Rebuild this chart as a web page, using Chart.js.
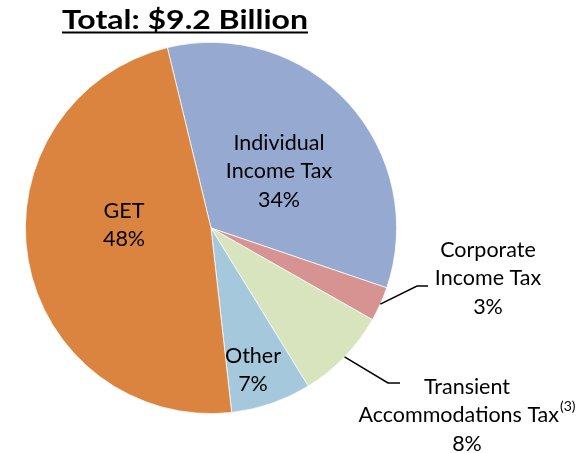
<!DOCTYPE html>
<html>
<head>
<meta charset="utf-8">
<script src="https://cdn.jsdelivr.net/npm/chart.js@4"></script>
<style>
  html, body { margin: 0; padding: 0; background: #fff; }
  #wrap { width: 588px; height: 453px; }
</style>
</head>
<body>
<div id="wrap"><canvas id="revenue-chart" width="588" height="453"></canvas></div>
<script>
// Data
const categories = ['Individual Income Tax', 'Corporate Income Tax', 'Transient Accommodations Tax', 'Other', 'GET'];
const shares = [34, 3, 8, 7, 48];
const sliceColors = ['#95A9D1', '#D69391', '#D7E4BD', '#A5C8DC', '#DA843F'];
const titleText = 'Total: $9.2 Billion';

// Label text lines (the percent line is added under them)
const labelLines = [
    ['Individual', 'Income Tax'],
    ['Corporate', 'Income Tax'],
    ['Transient', 'Accommodations Tax'],
    ['Other'],
    ['GET']
];

// Label placement (pixels) and leader line elbows for outside labels
const labelPos = [
    { x: 279, y: 143 },
    { x: 488, y: 250 },
    { x: 467, y: 387 },
    { x: 253, y: 356 },
    { x: 124, y: 211 }
];
const leaders = [null, { ex: 417, ey: 286, hx: 428 }, { ex: 388, ey: 383, hx: 400 }, null, null];

const FONT = 'Lato, Carlito, Calibri, sans-serif';
const LABEL_FONT = '21.5px ' + FONT;
const SUP_FONT = '14px ' + FONT;

// Draws labels, leader lines and the underlined title
const labelPlugin = {
    id: 'pieLabels',
    afterDraw(chart) {
        const ctx = chart.ctx;
        const meta = chart.getDatasetMeta(0);
        ctx.save();
        ctx.fillStyle = '#000';
        ctx.textAlign = 'center';
        ctx.textBaseline = 'middle';
        ctx.font = LABEL_FONT;

        meta.data.forEach((arc, i) => {
            const lead = leaders[i];
            if (lead) {
                const mid = (arc.startAngle + arc.endAngle) / 2;
                const sx = arc.x + Math.cos(mid) * arc.outerRadius;
                const sy = arc.y + Math.sin(mid) * arc.outerRadius;
                ctx.beginPath();
                ctx.strokeStyle = '#000';
                ctx.lineWidth = 1.5;
                ctx.moveTo(sx, sy);
                ctx.lineTo(lead.ex, lead.ey);
                ctx.lineTo(lead.hx, lead.ey);
                ctx.stroke();
            }
            const p = labelPos[i];
            const lines = labelLines[i].concat([shares[i] + '%']);
            lines.forEach((txt, j) => {
                const y = p.y + j * 28.5;
                if (i === 2 && j === 1) {
                    // superscript note after "Accommodations Tax"
                    const w = ctx.measureText(txt).width;
                    ctx.font = SUP_FONT;
                    const sw = ctx.measureText('(3)').width;
                    ctx.font = LABEL_FONT;
                    const left = p.x - (w + sw + 1) / 2;
                    ctx.textAlign = 'left';
                    ctx.fillText(txt, left, y);
                    ctx.font = SUP_FONT;
                    ctx.fillText('(3)', left + w + 1, y - 9);
                    ctx.font = LABEL_FONT;
                    ctx.textAlign = 'center';
                } else {
                    ctx.fillText(txt, p.x, y);
                }
            });
        });

        // title, stretched to the reference width
        ctx.font = 'bold 27px ' + FONT;
        ctx.textAlign = 'left';
        ctx.textBaseline = 'alphabetic';
        const tw = ctx.measureText(titleText).width;
        const targetW = 246;
        ctx.save();
        ctx.translate(62, 29);
        ctx.scale(targetW / tw, 1);
        ctx.fillText(titleText, 0, 0);
        ctx.restore();
        ctx.fillRect(62, 31.5, targetW, 2);
        ctx.restore();
    }
};

const revenueChart = new Chart(document.getElementById('revenue-chart').getContext('2d'), {
    type: 'pie',
    data: {
        labels: categories,
        datasets: [{
            data: shares,
            backgroundColor: sliceColors,
            borderColor: '#ffffff',
            borderWidth: 0.75
        }]
    },
    options: {
        responsive: false,
        animation: false,
        rotation: -13.6,
        layout: {
            padding: { left: 25, right: 191, top: 42, bottom: 39 }
        },
        plugins: {
            legend: { display: false },
            tooltip: { enabled: false }
        }
    },
    plugins: [labelPlugin]
});
</script>
</body>
</html>
